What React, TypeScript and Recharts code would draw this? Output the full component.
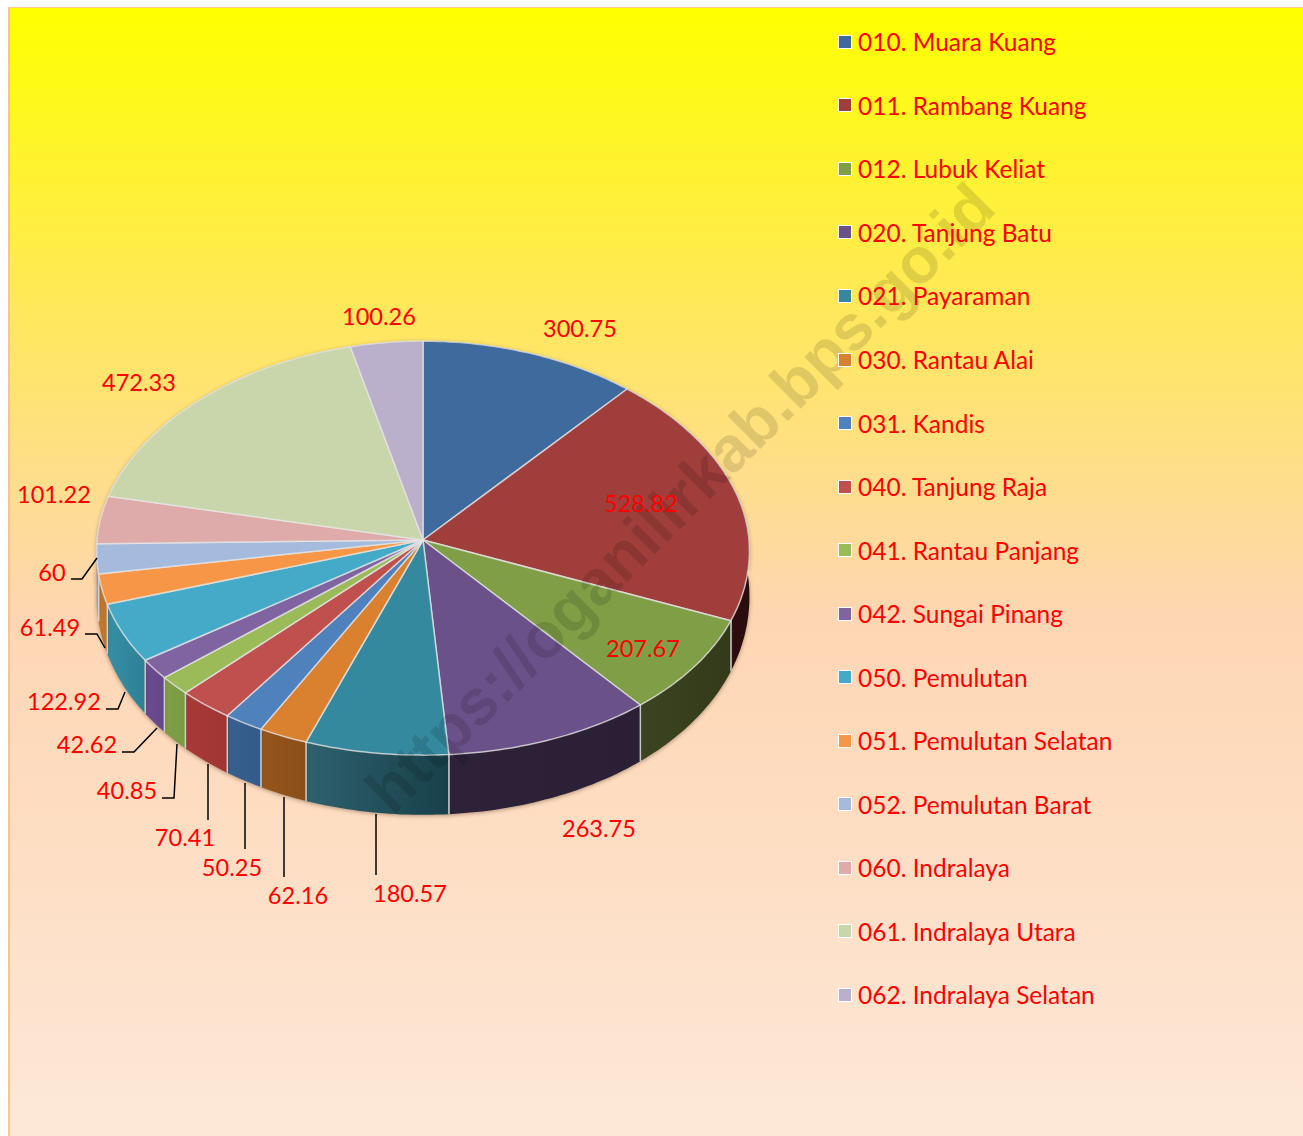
import { PieChart, Pie, Legend } from "recharts";

const districts = [
  "010. Muara Kuang", "011. Rambang Kuang", "012. Lubuk Keliat", "020. Tanjung Batu",
  "021. Payaraman", "030. Rantau Alai", "031. Kandis", "040. Tanjung Raja",
  "041. Rantau Panjang", "042. Sungai Pinang", "050. Pemulutan", "051. Pemulutan Selatan",
  "052. Pemulutan Barat", "060. Indralaya", "061. Indralaya Utara", "062. Indralaya Selatan",
];

const areas = [
  300.75, 528.82, 207.67, 263.75, 180.57, 62.16, 50.25, 70.41,
  40.85, 42.62, 122.92, 61.49, 60, 101.22, 472.33, 100.26,
];

const topColors = [
  "#3F6A9E", "#A03E3C", "#7F9E46", "#6B5189", "#35899F", "#D9812F", "#4F81BD", "#C0504D",
  "#9BBB59", "#8064A2", "#45AAC8", "#F79646", "#A5BBDD", "#DEABAA", "#C9D6AB", "#BAB0CB",
];

// side wall colours, left and right end of each slice
const sideLeft = [
  "#223A57", "#3A1212", "#3B4420", "#2D2238", "#2F616E", "#96561C", "#38608F", "#A83A38",
  "#7FA045", "#6C4C92", "#358FA6", "#C47A30", "#8A9DBD", "#B98E8D", "#A8B38F", "#9B93AA",
];
const sideRight = [
  "#223A57", "#2A0D0D", "#333A1A", "#2A1F35", "#17404A", "#8A4E18", "#335A8A", "#A03534",
  "#7A9A42", "#654689", "#2F7F95", "#BC7229", "#8A9DBD", "#B98E8D", "#A8B38F", "#9B93AA",
];

// hand placed label centres and leader lines, in page pixels like the source chart
const labelCenters = [
  [580, 328], [641, 503], [643, 648], [599, 828], [410, 893], [298, 895], [232, 867], [185, 837],
  [127, 790], [87, 744], [64, 701], [50, 627], [52, 572], [54, 494], [139, 382], [379, 316],
];
const leaderLines: Record<number, number[][]> = {
  4: [[376, 875], [376, 814]],
  5: [[284, 877], [284, 797]],
  6: [[245, 849], [245, 783]],
  7: [[208, 820], [208, 764]],
  8: [[162, 798], [174, 798], [177, 744]],
  9: [[122, 752], [134, 752], [157, 728]],
  10: [[106, 709], [118, 709], [125, 692]],
  11: [[85, 634], [97, 634], [105, 648]],
  12: [[71, 579], [82, 579], [97, 558]],
};

const rows = districts.map((name, i) => ({ name, value: areas[i], fill: topColors[i] }));

const WIDTH = 1295;
const HEIGHT = 1128;
const PAGE = 8; // body margin
const CX = 423 - PAGE;
const CY = 540 - PAGE;
const RADIUS = 326;
const TOP_RATIO = 0.61;
const FRONT_RATIO = 0.66;
const WALL_RATIO = 0.705;
const WALL_DROP = 45;
const PERSPECTIVE = 0.05; // front rim sits wider than the back rim
const FONT = "Lato, 'Open Sans', sans-serif";

const rad = (deg: number) => (deg * Math.PI) / 180;

function rimX(cx: number, r: number, theta: number) {
  return cx + r * Math.sin(rad(theta)) * (1 - PERSPECTIVE * Math.cos(rad(theta)));
}

function topPoint(cx: number, cy: number, r: number, theta: number) {
  const c = Math.cos(rad(theta));
  return [rimX(cx, r, theta), cy - c * r * (c > 0 ? TOP_RATIO : FRONT_RATIO)];
}

function wallPoint(cx: number, cy: number, r: number, theta: number) {
  return [rimX(cx, r, theta), cy + WALL_DROP - Math.cos(rad(theta)) * r * WALL_RATIO];
}

function sweep(from: number, to: number) {
  const out: number[] = [];
  for (let t = from; t < to; t += 1) out.push(t);
  out.push(to);
  return out;
}

const toPath = (pts: number[][]) => "M" + pts.map((p) => `${p[0].toFixed(1)},${p[1].toFixed(1)}`).join("L") + "Z";

function TopFace(props: any) {
  const { cx, cy, outerRadius, startAngle, endAngle, fill } = props;
  const pts = sweep(90 - startAngle, 90 - endAngle).map((t) => topPoint(cx, cy, outerRadius, t));
  return (
    <path
      d={toPath([[cx, cy], ...pts])}
      fill={fill}
      stroke="#E6E6E6"
      strokeOpacity={0.75}
      strokeWidth={1.5}
      strokeLinejoin="round"
    />
  );
}

function SideWall(props: any) {
  const { cx, cy, outerRadius, startAngle, endAngle, index } = props;
  const from = 90 - startAngle;
  const to = 90 - endAngle;
  const angles = sweep(from, to);
  const upper = angles.map((t) => topPoint(cx, cy, outerRadius, t));
  const lower = angles.map((t) => wallPoint(cx, cy, outerRadius, t)).reverse();
  const id = `wall-${index}`;
  const seams = [from, to].filter((t) => t > 100 && t < 262);
  return (
    <g>
      <defs>
        <linearGradient id={id} x1="0" x2="1" y1="0" y2="0">
          <stop offset="0" stopColor={sideLeft[index]} />
          <stop offset="1" stopColor={sideRight[index]} />
        </linearGradient>
      </defs>
      <path d={toPath([...upper, ...lower])} fill={`url(#${id})`} style={{ filter: "drop-shadow(0 1px 2px rgba(70,50,30,0.45))" }} />
      {seams.map((t) => {
        const a = topPoint(cx, cy, outerRadius, t);
        const b = wallPoint(cx, cy, outerRadius, t);
        return <line key={t} x1={a[0]} y1={a[1]} x2={b[0]} y2={b[1]} stroke="#DADADA" strokeOpacity={0.8} strokeWidth={1.5} />;
      })}
    </g>
  );
}

function ValueLabel(props: any) {
  const { index, value } = props;
  const [x, y] = labelCenters[index];
  const line = leaderLines[index];
  return (
    <g>
      {line && (
        <polyline
          points={line.map((p) => `${p[0] - PAGE},${p[1] - PAGE}`).join(" ")}
          fill="none"
          stroke="#000"
          strokeWidth={1.5}
        />
      )}
      <text
        x={x - PAGE}
        y={y - PAGE}
        fill="#FF0000"
        fontFamily={FONT}
        fontSize={23.6}
        textAnchor="middle"
        dominantBaseline="central"
      >
        {value}
      </text>
    </g>
  );
}

function LegendList({ payload }: any) {
  return (
    <div>
      {(payload ?? []).map((entry: any, i: number) => (
        <div key={entry.value} style={{ height: 63.55, display: "flex", alignItems: "center" }}>
          <span
            style={{
              width: 12,
              height: 12,
              marginRight: 6,
              background: topColors[i],
              border: "1.5px solid #FFFFFF",
              boxSizing: "content-box",
            }}
          />
          <span style={{ color: "#FF0000", fontFamily: FONT, fontSize: 24.5, whiteSpace: "nowrap" }}>{entry.value}</span>
        </div>
      ))}
    </div>
  );
}

export default function App() {
  return (
    <div
      style={{
        position: "fixed",
        left: PAGE,
        top: PAGE - 1,
        right: 0,
        bottom: 0,
        boxSizing: "border-box",
        borderLeft: "2px solid #F9C48F",
        borderTop: "1px solid #F9C48F",
        background: "linear-gradient(180deg, #FFFF00 0%, #FFE75F 28%, #FED6B3 54%, #FDE8D8 100%)",
        overflow: "hidden",
      }}
    >
      <div style={{ position: "absolute", left: -2, top: 0 }}>
        <PieChart width={WIDTH} height={HEIGHT} margin={{ top: 0, right: 0, bottom: 0, left: 0 }}>
          <Pie
            data={rows}
            dataKey="value"
            nameKey="name"
            cx={CX}
            cy={CY}
            outerRadius={RADIUS}
            startAngle={90}
            endAngle={-270}
            stroke="none"
            legendType="none"
            isAnimationActive={false}
            shape={SideWall}
          />
          <Pie
            data={rows}
            dataKey="value"
            nameKey="name"
            cx={CX}
            cy={CY}
            outerRadius={RADIUS}
            startAngle={90}
            endAngle={-270}
            legendType="none"
            isAnimationActive={false}
            shape={TopFace}
          />
        </PieChart>
        {/* watermark sits over the pie faces but under the texts */}
        <svg
          width={WIDTH}
          height={HEIGHT}
          style={{ position: "absolute", left: 0, top: 0, pointerEvents: "none" }}
        >
          <text
            x={680 - PAGE}
            y={498 - PAGE}
            transform={`rotate(-45 ${680 - PAGE} ${498 - PAGE})`}
            textAnchor="middle"
            dominantBaseline="central"
            fontFamily="'Liberation Sans', Arial, sans-serif"
            fontWeight={700}
            fontSize={64}
            fill="#000000"
            fillOpacity={0.12}
          >
            https://oganilirkab.bps.go.id
          </text>
        </svg>
        <div style={{ position: "absolute", left: 0, top: 0 }}>
          <PieChart width={WIDTH} height={HEIGHT} margin={{ top: 0, right: 0, bottom: 0, left: 0 }}>
            <Pie
              data={rows}
              dataKey="value"
              nameKey="name"
              cx={CX}
              cy={CY}
              outerRadius={RADIUS}
              startAngle={90}
              endAngle={-270}
              isAnimationActive={false}
              shape={() => null}
              label={ValueLabel}
              labelLine={false}
            />
            <Legend
              layout="vertical"
              align="right"
              verticalAlign="top"
              content={LegendList}
              wrapperStyle={{ left: 838 - PAGE, right: "auto", top: 2, width: 400 }}
            />
          </PieChart>
        </div>
      </div>
    </div>
  );
}
